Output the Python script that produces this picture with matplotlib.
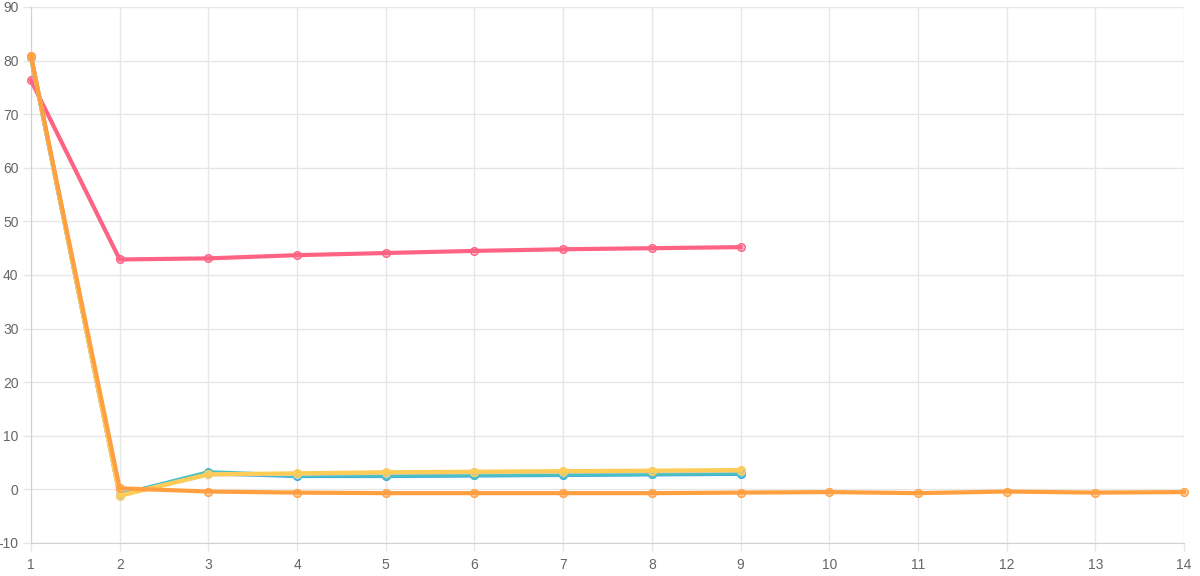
import numpy as np
import matplotlib
matplotlib.use("Agg")
import matplotlib.pyplot as plt

plt.rcParams['font.family'] = ['Liberation Sans', 'DejaVu Sans']
plt.rcParams['axes.unicode_minus'] = False

# x positions and series values
x_short = [1, 2, 3, 4, 5, 6, 7, 8, 9]
x_long = [1, 2, 3, 4, 5, 6, 7, 8, 9, 10, 11, 12, 13, 14]

pink = [76.3, 42.9, 43.1, 43.7, 44.1, 44.5, 44.8, 45.0, 45.2]
blue = [80.7, -1.0, 3.0, 2.5, 2.5, 2.6, 2.7, 2.8, 2.9]
teal = [80.7, -1.0, 3.2, 2.6, 2.6, 2.7, 2.8, 2.9, 3.0]
grey = [80.7, -1.1, 2.8, 2.9, 3.1, 3.2, 3.3, 3.4, 3.5]
yellow = [80.8, -1.2, 2.8, 3.0, 3.2, 3.3, 3.4, 3.5, 3.6]
orange = [80.8, 0.2, -0.4, -0.6, -0.7, -0.7, -0.7, -0.7, -0.6, -0.5, -0.7, -0.4, -0.6, -0.5]

series = [
    (x_short, pink, (255, 99, 132)),
    (x_short, blue, (54, 162, 235)),
    (x_short, teal, (75, 192, 192)),
    (x_short, grey, (201, 203, 207)),
    (x_short, yellow, (255, 205, 86)),
    (x_long, orange, (255, 159, 64)),
]

fig = plt.figure(figsize=(12, 5.76), dpi=100)
ax = fig.add_axes([31/1200, 1-543/576, (1184-31)/1200, (543-7)/576])

for xs, ys, rgb in series:
    c = tuple(v/255 for v in rgb)
    ax.plot(xs, ys, color=c, lw=3, marker='o', ms=5.5,
            mfc=c + (0.4,), mec=c, mew=1.0, zorder=3, clip_on=False)

ax.set_xlim(1, 14)
ax.set_ylim(-10, 90)
ax.set_xticks(x_long)
ax.set_yticks(np.arange(-10, 91, 10))
ax.grid(True, color='#e6e6e6', lw=1)
ax.set_axisbelow(True)
for s in ['top', 'right']:
    ax.spines[s].set_visible(False)
for s in ['left', 'bottom']:
    ax.spines[s].set_color('#d0d0d0')
ax.tick_params(colors='#666666', labelsize=10, length=6, width=1)
ax.tick_params(axis='both', color='#e6e6e6')
ax.tick_params(axis='x', pad=5)
ax.tick_params(axis='y', pad=3)

fig.savefig('out.png', dpi=100)
